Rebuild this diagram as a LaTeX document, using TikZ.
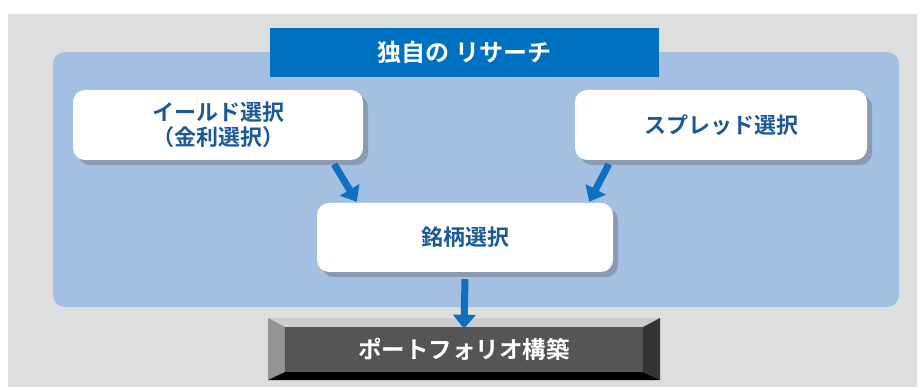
\documentclass[tikz,border=0pt]{standalone}
\usepackage{fontspec}
\setmainfont{Noto Sans CJK JP}
\newfontfamily\jpb{Noto Sans CJK JP Bold}
\usetikzlibrary{shadows,arrows.meta}
\definecolor{bggray}{RGB}{221,222,222}
\definecolor{panelblue}{RGB}{163,192,227}
\definecolor{titleblue}{RGB}{0,112,192}
\definecolor{txtblue}{RGB}{28,90,150}
\definecolor{arrblue}{RGB}{16,112,192}
\definecolor{shadowc}{RGB}{130,142,160}
\definecolor{faceg}{RGB}{85,85,85}
\tikzset{
  wbox/.style={draw=none, fill=white, rounded corners=12pt, align=center,
    font=\jpb\fontsize{22}{25}\selectfont, text=txtblue,
    drop shadow={shadow xshift=5pt, shadow yshift=-5pt, fill=shadowc, opacity=0.75}},
  flowarr/.style={draw=arrblue, line width=7pt, -{Triangle[width=22pt,length=14pt]}},
}
\begin{document}
\begin{tikzpicture}[x=1pt,y=-1pt]
\useasboundingbox (0,0) rectangle (924,390);
\fill[white] (0,0) rectangle (924,390);
\fill[bggray] (8,14) rectangle (917,387);
\fill[panelblue, rounded corners=12pt] (53,52) rectangle (899,307);
\node[fill=titleblue, minimum width=389pt, minimum height=49pt, inner sep=0pt,
  text=white, font=\jpb\fontsize{24}{28}\selectfont] (title) at (464.5,52.5) {独自の リサーチ};
\node[wbox, minimum width=290pt, minimum height=70pt, inner sep=0pt] (yield) at (218,125) {イールド選択\\（金利選択）};
\node[wbox, minimum width=292pt, minimum height=70pt, inner sep=0pt] (spread) at (721,125) {スプレッド選択};
\node[wbox, minimum width=296pt, minimum height=69pt, inner sep=0pt] (issue) at (465,237.5) {銘柄選択};
% bevel box
\coordinate (bo1) at (268,318);
\coordinate (bo2) at (660,318);
\coordinate (bo3) at (660,380);
\coordinate (bo4) at (268,380);
\coordinate (bi1) at (285,327);
\coordinate (bi2) at (643,327);
\coordinate (bi3) at (643,372);
\coordinate (bi4) at (285,372);
\fill[black!20] (bo1) -- (bo2) -- (bi2) -- (bi1) -- cycle;
\fill[black!42] (bo1) -- (bi1) -- (bi4) -- (bo4) -- cycle;
\fill[black!80] (bo2) -- (bo3) -- (bi3) -- (bi2) -- cycle;
\fill[black] (bo4) -- (bi4) -- (bi3) -- (bo3) -- cycle;
\node[fill=faceg, minimum width=358pt, minimum height=45pt, inner sep=0pt,
  text=white, font=\jpb\fontsize{23.5}{28}\selectfont] (port) at (464,349.5) {ポートフォリオ構築};
\draw[flowarr] ([xshift=-29pt,yshift=-4pt]yield.south east) -- ([xshift=40pt,yshift=1pt]issue.north west);
\draw[flowarr] ([xshift=34pt,yshift=-4pt]spread.south west) -- ([xshift=-24pt,yshift=1pt]issue.north east);
\draw[flowarr] ([yshift=-7pt]issue.south) -- ([yshift=-2pt]port.north);
\end{tikzpicture}
\end{document}
